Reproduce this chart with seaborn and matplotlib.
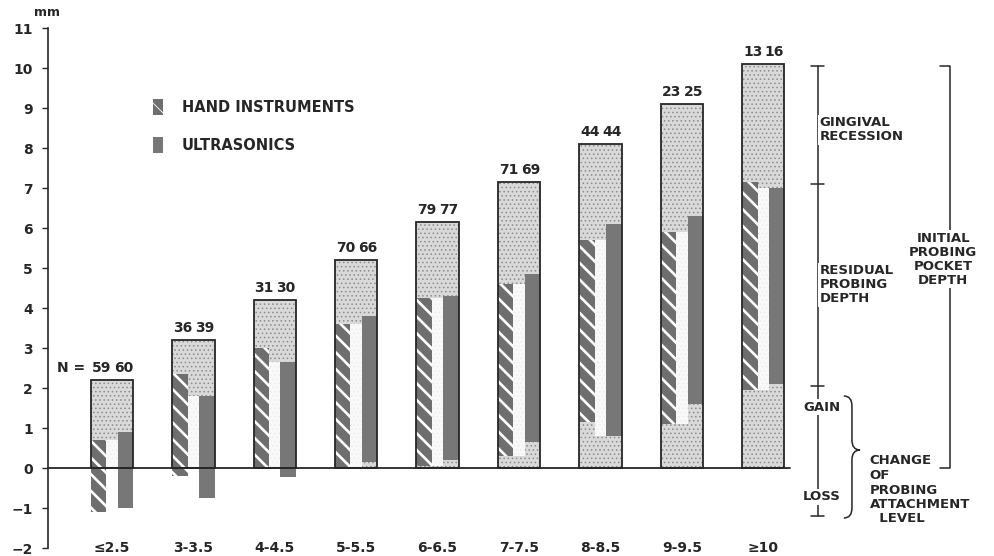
import matplotlib.pyplot as plt
import seaborn as sns
from matplotlib.patches import Patch, PathPatch
from matplotlib.path import Path

# initial probing depth classes (mm) and mean values
categories = ["≤2.5", "3-3.5", "4-4.5", "5-5.5", "6-6.5", "7-7.5", "8-8.5", "9-9.5", "≥10"]
initial_depth = [2.2, 3.2, 4.2, 5.2, 6.15, 7.15, 8.1, 9.1, 10.1]
hand_top = [0.7, 2.35, 3.0, 3.6, 4.25, 4.6, 5.7, 5.9, 7.15]
hand_bottom = [-1.1, -0.2, 0.0, 0.0, 0.05, 0.3, 1.15, 1.1, 1.95]
ultra_top = [0.9, 1.8, 2.65, 3.8, 4.3, 4.85, 6.1, 6.3, 7.0]
ultra_bottom = [-1.0, -0.75, -0.22, 0.15, 0.2, 0.65, 0.8, 1.6, 2.1]
n_hand = [59, 36, 31, 70, 79, 71, 44, 23, 13]
n_ultra = [60, 39, 30, 66, 77, 69, 44, 25, 16]

# levels of the explanatory key on the right
key_levels = [10.05, 7.1, 2.05, -1.2]

sns.set_style("ticks")
plt.rcParams["font.family"] = ["DejaVu Sans"]
plt.rcParams["hatch.linewidth"] = 0.6

INK = "#262626"
fig = plt.figure(figsize=(9.94, 5.56), dpi=100)
ax = fig.add_axes([48 / 994, 0, 946 / 994, 540 / 556])

xs = list(range(len(categories)))
box_w, bar_w = 0.52, 0.19
off = box_w / 2 - bar_w / 2

# stippled outer box = initial probing pocket depth
sns.barplot(x=categories, y=initial_depth, order=categories, color="#d9d9d9",
            saturation=1, width=box_w, errorbar=None, hatch="....",
            edgecolor="#8c8c8c", linewidth=0, ax=ax, zorder=1)

# light gap between the two bars
gap_bottom = [max(0, min(a, b)) for a, b in zip(hand_bottom, ultra_bottom)]
gap_top = [min(a, b) for a, b in zip(hand_top, ultra_top)]
ax.bar(xs, [t - b for t, b in zip(gap_top, gap_bottom)], bottom=gap_bottom,
       width=2 * off - bar_w, color="white", alpha=0.85, linewidth=0, zorder=2)

# hand instruments: striped bars
hand_x = [x - off for x in xs]
hand_h = [t - b for t, b in zip(hand_top, hand_bottom)]
ax.bar(hand_x, hand_h, bottom=hand_bottom, width=bar_w, color="#6e6e6e",
       linewidth=0, zorder=3)
stripes = ax.bar(hand_x, hand_h, bottom=hand_bottom, width=bar_w, fill=False,
                 hatch="\\\\", edgecolor="white", linewidth=0, zorder=3.1)
for p in stripes:
    p.set_hatch_linewidth(1.9)

# ultrasonics: solid bars
ultra_x = [x + off for x in xs]
ax.bar(ultra_x, [t - b for t, b in zip(ultra_top, ultra_bottom)],
       bottom=ultra_bottom, width=bar_w, color="#777777", linewidth=0, zorder=3)

# box outline on top
ax.bar(xs, initial_depth, width=box_w, fill=False, edgecolor=INK,
       linewidth=1.3, zorder=4)

ax.plot([-0.79, 8.33], [0, 0], color=INK, lw=1.3, zorder=5, clip_on=False)

txt = dict(color=INK, fontweight="bold")
for x, top, a, b in zip(xs, initial_depth, n_hand, n_ultra):
    ax.text(x - 0.13, top + 0.12, str(a), ha="center", va="bottom", fontsize=10, **txt)
    ax.text(x + 0.14, top + 0.12, str(b), ha="center", va="bottom", fontsize=10, **txt)
ax.text(xs[0] - 0.5, initial_depth[0] + 0.12, "N =", ha="center", va="bottom",
        fontsize=10, **txt)

for x, lab in zip(xs, categories):
    ax.text(x, -2, lab, ha="center", va="center", fontsize=10, **txt)

# axes
ax.set_xlim(-0.786, 10.835)
ax.set_ylim(-2.2, 11.3)
ax.set_xticks([])
ax.set_yticks(range(-2, 12))
ax.tick_params(axis="y", length=4, width=1, color=INK, pad=7, labelsize=10,
               labelcolor=INK)
for t in ax.get_yticklabels():
    t.set_fontweight("bold")
for s in ["top", "right", "bottom"]:
    ax.spines[s].set_visible(False)
ax.spines["left"].set_bounds(-2, 11)
ax.spines["left"].set_color(INK)
ax.spines["left"].set_linewidth(1.2)
ax.text(-0.8, 11.4, "mm", ha="center", va="center", fontsize=9, **txt)

# legend
h1 = Patch(facecolor="#6e6e6e", hatch="\\\\", edgecolor="white", linewidth=0)
h2 = Patch(facecolor="#777777", linewidth=0)
leg = ax.legend([h1, h2], ["HAND INSTRUMENTS", "ULTRASONICS"], loc="upper left",
                bbox_to_anchor=(0.097, 0.87), frameon=False, fontsize=10.5,
                handlelength=0.7, handleheight=1.3, handletextpad=1.3,
                labelspacing=1.5)
for t in leg.get_texts():
    t.set_fontweight("bold")
    t.set_color(INK)

# explanatory key on the right
kx = 8.67
ax.plot([kx, kx], [key_levels[0], key_levels[-1]], color=INK, lw=1.1)
for lv in key_levels:
    ax.plot([kx - 0.08, kx + 0.08], [lv, lv], color=INK, lw=1.1)
wb = dict(facecolor="white", edgecolor="none", pad=1)
ax.text(kx + 0.02, 8.45, "GINGIVAL\nRECESSION", ha="left", va="center",
        fontsize=9.5, linespacing=1.1, bbox=wb, **txt)
ax.text(kx + 0.02, 4.58, "RESIDUAL\nPROBING\nDEPTH", ha="left", va="center",
        fontsize=9.5, linespacing=1.1, bbox=wb, **txt)
ax.text(kx + 0.05, 1.52, "GAIN", ha="center", va="center", fontsize=9.5, bbox=wb, **txt)
ax.text(kx + 0.05, -0.72, "LOSS", ha="center", va="center", fontsize=9.5, bbox=wb, **txt)

# bracket for initial probing pocket depth
bx = 10.29
ax.plot([bx - 0.12, bx, bx, bx - 0.12], [key_levels[0], key_levels[0], 0.0, 0.0],
        color=INK, lw=1.1)
ax.text(bx - 0.08, 5.22, "INITIAL\nPROBING\nPOCKET\nDEPTH", ha="center",
        va="center", fontsize=9.5, linespacing=1.1, bbox=wb, **txt)

# curly brace for change of attachment level
x0, w, r = 8.99, 0.2, 0.25
yt, ym, yb = 1.8, 0.45, -1.25
xm = x0 + w / 2
verts = [(x0, yt), (xm, yt), (xm, yt - r), (xm, ym + r), (xm, ym), (x0 + w, ym),
         (xm, ym), (xm, ym - r), (xm, yb + r), (xm, yb), (x0, yb)]
codes = [Path.MOVETO, Path.CURVE3, Path.CURVE3, Path.LINETO, Path.CURVE3,
         Path.CURVE3, Path.CURVE3, Path.CURVE3, Path.LINETO, Path.CURVE3, Path.CURVE3]
ax.add_patch(PathPatch(Path(verts, codes), fill=False, edgecolor=INK, lw=1.1))
ax.text(9.31, -0.55, "CHANGE\nOF\nPROBING\nATTACHMENT\n  LEVEL", ha="left",
        va="center", fontsize=9.5, linespacing=1.15, **txt)

fig.savefig("out.png", dpi=100)
